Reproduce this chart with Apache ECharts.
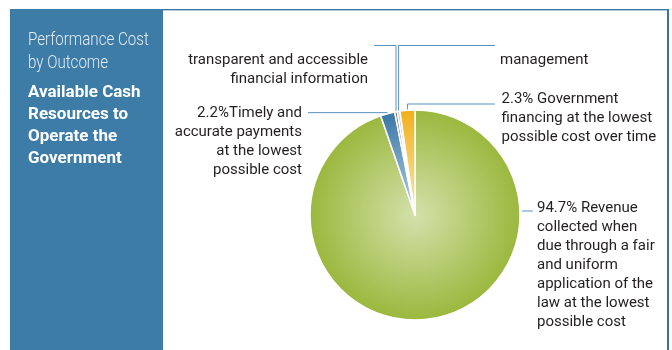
<!DOCTYPE html>
<html>
<head>
<meta charset="utf-8">
<script src="https://cdn.jsdelivr.net/npm/echarts@6/dist/echarts.min.js"></script>
<style>
  html, body { margin: 0; padding: 0; background: #ffffff; }
  #chart { width: 672px; height: 350px; }
</style>
</head>
<body>
<div id="chart"></div>
<script>
// Outcome cost shares (percent of performance cost)
const outcomeLabels = [
  '94.7% Revenue\ncollected when\ndue through a fair\nand uniform\napplication of the\nlaw at the lowest\npossible cost',
  '2.2%Timely and\naccurate payments\nat the lowest\npossible cost',
  'transparent and accessible\nfinancial information',
  'management',
  '2.3% Government\nfinancing at the lowest\npossible cost over time'
];
const outcomeShares = [94.7, 2.2, 0.4, 0.4, 2.3];

const panelHeading = ['Performance Cost', 'by Outcome'];
const panelTitle = ['Available Cash', 'Resources to', 'Operate the', 'Government'];

// Geometry and styling
const CX = 415, CY = 215, R = 105;
const TEXT_FONT = 'Roboto, sans-serif';
const LEADER = '#5a92bf';
const sliceShades = [
  ['#d4e1ab', '#9bb83e'],
  ['#b9d2e4', '#3a78a6'],
  ['#b3a18b', '#85715a'],
  ['#e3ebf2', '#b9cbda'],
  ['#fce8b4', '#f0b01c']
];

// Label boxes: anchor point and alignment
const labelSpots = [
  { x: 537, y: 199, align: 'left' },
  { x: 302, y: 104, align: 'right' },
  { x: 368, y: 51, align: 'right' },
  { x: 500, y: 50.5, align: 'left' },
  { x: 501.5, y: 89.5, align: 'left' }
];

const total = outcomeShares.reduce((a, b) => a + b, 0);
function sliceAnchor(i) {
  let before = 0;
  for (let k = 0; k < i; k++) before += outcomeShares[k];
  const theta = (before + outcomeShares[i] / 2) / total * Math.PI * 2;
  return [CX + R * Math.sin(theta), CY - R * Math.cos(theta)];
}

function leaderPoints(i) {
  const a = sliceAnchor(i);
  switch (i) {
    case 0: return [[CX + R + 2, 211], [533, 211]];
    case 1: return [[a[0], a[1] - 1], [308, a[1] - 1]];
    case 2: return [[a[0], a[1]], [a[0], 45.5], [374, 45.5]];
    case 3: return [[a[0], a[1]], [a[0], 45.5], [495, 45.5]];
    default: return [[a[0], a[1]], [a[0], 104], [495, 104]];
  }
}

const chart = echarts.init(document.getElementById('chart'), null, { renderer: 'canvas' });

const graphics = [
  { type: 'rect', shape: { x: 10, y: 9, width: 153, height: 341 }, style: { fill: '#3e7ca8' }, z: 0 },
  { type: 'line', shape: { x1: 163, y1: 9.5, x2: 669, y2: 9.5 }, style: { stroke: '#3a74a0', lineWidth: 1 } },
  { type: 'line', shape: { x1: 163, y1: 10.5, x2: 667, y2: 10.5 }, style: { stroke: '#b4cde0', lineWidth: 1 } },
  { type: 'rect', shape: { x: 667, y: 9, width: 2, height: 341 }, style: { fill: '#3a74a0' } }
];
panelHeading.forEach((t, k) => graphics.push({
  type: 'text', x: 28, y: 40 + k * 23, scaleX: 0.84,
  style: { text: t, fill: '#e2ecf4', font: '300 18px ' + TEXT_FONT, textVerticalAlign: 'middle' }
}));
panelTitle.forEach((t, k) => graphics.push({
  type: 'text', x: 28, y: 93 + k * 22,
  style: { text: t, fill: '#ffffff', font: 'bold 17px ' + TEXT_FONT, textVerticalAlign: 'middle' }
}));

chart.setOption({
  animation: false,
  graphic: graphics,
  series: [{
    type: 'pie',
    center: [CX, CY],
    radius: [0, R],
    startAngle: 90,
    clockwise: true,
    avoidLabelOverlap: false,
    silent: true,
    itemStyle: { borderColor: '#ffffff', borderWidth: 1.5 },
    label: {
      show: true,
      position: 'outside',
      color: '#231f20',
      fontSize: 15,
      lineHeight: 19,
      fontFamily: TEXT_FONT,
      formatter: p => outcomeLabels[p.dataIndex]
    },
    labelLine: { show: true, length: 6, length2: 6, lineStyle: { color: LEADER, width: 1 } },
    labelLayout: p => {
      const s = labelSpots[p.dataIndex];
      return {
        x: s.x, y: s.y, align: s.align, verticalAlign: 'top',
        labelLinePoints: leaderPoints(p.dataIndex)
      };
    },
    data: outcomeShares.map((v, i) => ({
      value: v,
      itemStyle: {
        color: new echarts.graphic.RadialGradient(CX, CY, R, [
          { offset: 0, color: sliceShades[i][0] },
          { offset: 1, color: sliceShades[i][1] }
        ], true)
      }
    }))
  }]
});
</script>
</body>
</html>
